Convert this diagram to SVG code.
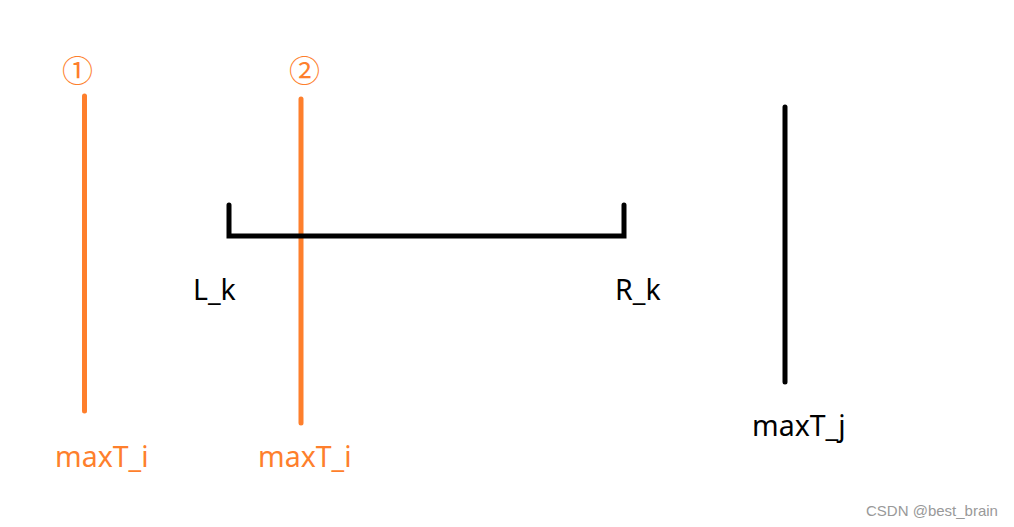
<svg xmlns="http://www.w3.org/2000/svg" width="1014" height="527" viewBox="0 0 1014 527">
<style>
.o{stroke:#fe7f2c;stroke-width:5;stroke-linecap:round;fill:none}
.k{stroke:#000;stroke-width:5;stroke-linecap:round;stroke-linejoin:miter;fill:none}
.t{font-family:"Noto Sans","Open Sans",sans-serif;font-size:28.5px}
.to{fill:#fe7f2c}
.tk{fill:#000}
.c{font-family:"Noto Sans CJK SC",sans-serif;font-size:31px;fill:#fe7f2c}
.w{font-family:"Liberation Sans",Arial,sans-serif;font-size:15px;fill:#999}
</style>
<rect width="1014" height="527" fill="#fff"/>
<g id="connectors">
<line class="o" x1="84.5" y1="96" x2="84.5" y2="411"/>
<line class="o" x1="301" y1="99" x2="301" y2="423"/>
<line class="k" x1="785" y1="107" x2="785" y2="382"/>
</g>
<g id="interval">
<polyline class="k" points="229,205 229,236 624,236 624,205"/>
<text class="t tk" x="193" y="300">L_k</text>
<text class="t tk" x="615" y="300">R_k</text>
</g>
<g id="line1">
<text class="c" x="62" y="82">①</text>
<text class="t to" x="55" y="467">maxT_i</text>
</g>
<g id="line2">
<text class="c" x="289" y="82">②</text>
<text class="t to" x="258" y="467">maxT_i</text>
</g>
<g id="linej">
<text class="t tk" x="752" y="436">maxT_j</text>
</g>
<text class="w" x="866" y="516">CSDN @best_brain</text>
</svg>
